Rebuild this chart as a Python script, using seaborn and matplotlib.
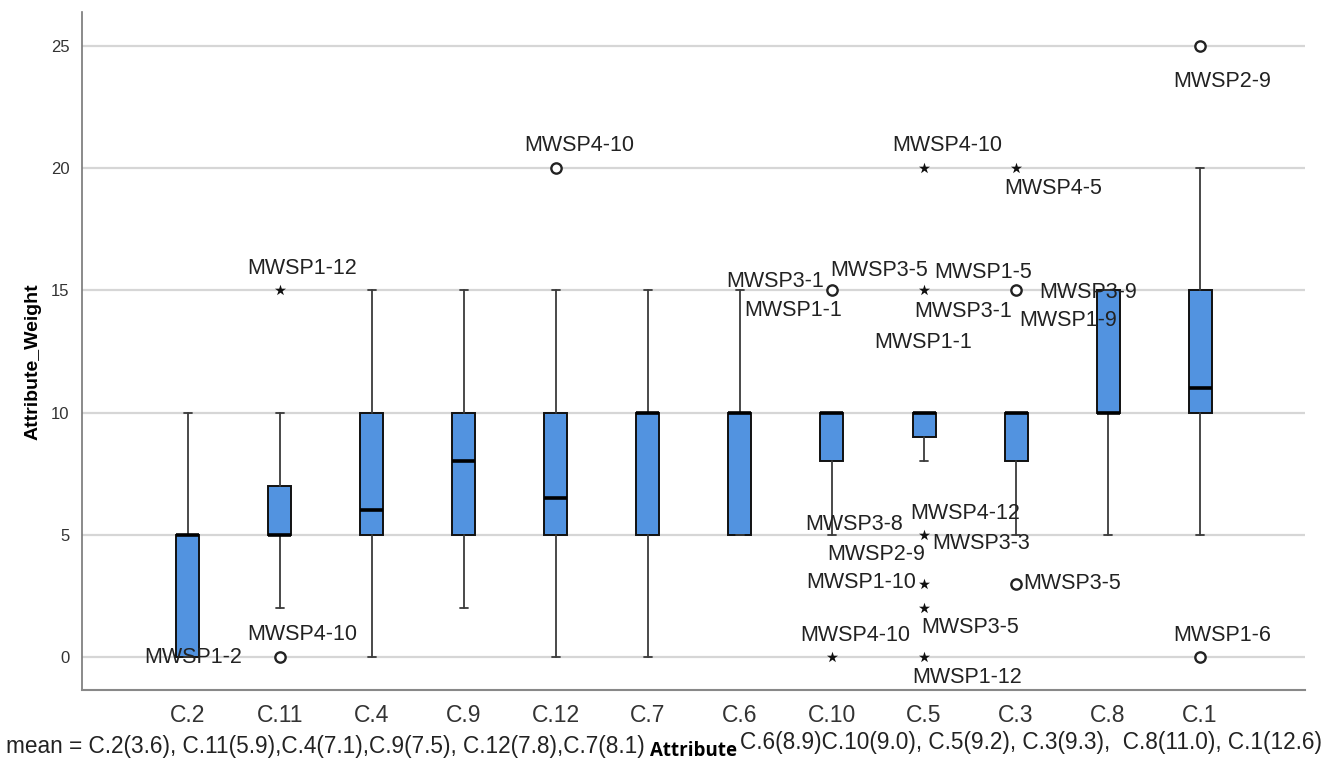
import numpy as np
import pandas as pd
import matplotlib
matplotlib.use("Agg")
import matplotlib.pyplot as plt
import seaborn as sns

# ---------------- data ----------------
categories = ["C.2", "C.11", "C.4", "C.9", "C.12", "C.7", "C.6", "C.10", "C.5", "C.3", "C.8", "C.1"]
q1 = [0, 5, 5, 5, 5, 5, 5, 8, 9, 8, 10, 10]
medians = [5, 5, 6, 8, 6.5, 10, 10, 10, 10, 10, 10, 11]
q3 = [5, 7, 10, 10, 10, 10, 10, 10, 10, 10, 15, 15]
whisker_low = [0, 2, 0, 2, 0, 0, 5, 5, 8, 5, 5, 5]
whisker_high = [10, 10, 15, 15, 15, 15, 15, 10, 10, 10, 15, 20]

out_cat = ["C.11", "C.11", "C.12", "C.10", "C.10", "C.5", "C.5", "C.5", "C.5", "C.5", "C.5",
           "C.3", "C.3", "C.3", "C.1", "C.1"]
out_val = [15, 0, 20, 15, 0, 20, 15, 5, 3, 2, 0, 20, 15, 3, 25, 0]
out_kind = ["extreme", "outlier", "outlier", "outlier", "extreme", "extreme", "extreme",
            "extreme", "extreme", "extreme", "extreme", "extreme", "outlier", "outlier", "outlier", "outlier"]

# case labels
label_cat = ["C.2", "C.11", "C.11", "C.12", "C.10", "C.10", "C.10",
             "C.5", "C.5", "C.5", "C.5", "C.5", "C.5", "C.5", "C.5", "C.5", "C.5", "C.5",
             "C.3", "C.3", "C.3", "C.3", "C.3", "C.1", "C.1"]
label_val = [0, 15, 0, 20, 15, 15, 0,
             20, 15, 15, 15, 5, 5, 5, 5, 3, 2, 0,
             20, 15, 15, 15, 3, 25, 0]
label_txt = ["MWSP1-2", "MWSP1-12", "MWSP4-10", "MWSP4-10", "MWSP3-1", "MWSP1-1", "MWSP4-10",
             "MWSP4-10", "MWSP3-5", "MWSP3-1", "MWSP1-1", "MWSP4-12", "MWSP3-3", "MWSP3-8", "MWSP2-9",
             "MWSP1-10", "MWSP3-5", "MWSP1-12",
             "MWSP4-5", "MWSP1-5", "MWSP3-9", "MWSP1-9", "MWSP3-5", "MWSP2-9", "MWSP1-6"]
# label offsets (pixels) from the point
label_dx = [5, 22, 22, 23, -57, -39, 23,
            23, -45, 39, -1, 41, 57, -70, -48, -63, 46, 43,
            37, -33, 72, 52, 56, 22, 22]
label_dy = [0, 22, 23, 23, 9, -20, 22,
            23, 20, -21, -52, 21, -9, 10, -20, 1, -19, -20,
            -20, 18, -2, -30, 0, -36, 22]

mean_left = "mean = C.2(3.6), C.11(5.9),C.4(7.1),C.9(7.5), C.12(7.8),C.7(8.1)"
mean_right = "C.6(8.9)C.10(9.0), C.5(9.2), C.3(9.3),  C.8(11.0), C.1(12.6)"

# ---------------- style ----------------
sns.set_theme(style="white")
plt.rcParams["font.family"] = ["Liberation Sans", "DejaVu Sans"]

W, H = 1335, 765
fig = plt.figure(figsize=(W / 100, H / 100), dpi=100)
ax = fig.add_axes([82 / W, 1 - 690 / H, (1305 - 82) / W, (690 - 12) / H])

positions = np.arange(len(categories))
stats = []
for i, c in enumerate(categories):
    stats.append(dict(label=c, q1=q1[i], med=medians[i], q3=q3[i],
                      whislo=whisker_low[i], whishi=whisker_high[i], fliers=[]))

box_color = "#5293E0"
ax.bxp(stats, positions=positions, widths=0.25, patch_artist=True, showfliers=False,
       capwidths=0.09,
       boxprops=dict(facecolor=box_color, edgecolor="#111111", linewidth=1.4),
       medianprops=dict(color="black", linewidth=2.6),
       whiskerprops=dict(color="#3a3a3a", linewidth=1.3),
       capprops=dict(color="#3a3a3a", linewidth=1.3),
       zorder=3)

pos_map = {c: i for i, c in enumerate(categories)}
odf = pd.DataFrame({"pos": [pos_map[c] for c in out_cat], "value": out_val, "kind": out_kind})
circ = odf[odf.kind == "outlier"]
star = odf[odf.kind == "extreme"]
sns.scatterplot(x=circ["pos"], y=circ["value"], marker="o", s=55, facecolor="white",
                edgecolor="#222222", linewidth=1.7, ax=ax, zorder=4, legend=False)
ax.scatter(star["pos"], star["value"], s=70, marker="*", color="#111111",
           linewidths=0, zorder=4)

for c, v, t, dx, dy in zip(label_cat, label_val, label_txt, label_dx, label_dy):
    ax.annotate(t, xy=(pos_map[c], v), xytext=(dx, dy), textcoords="offset pixels",
                ha="center", va="center", fontsize=15.5, color="#222222", zorder=5)

ax.set_xlim(-1.15, 12.14)
ax.set_ylim(-1.35, 26.39)
ax.set_yticks([0, 5, 10, 15, 20, 25])
ax.set_xticks(positions)
ax.set_xticklabels(categories)
ax.yaxis.grid(True, color="#d6d6d6", linewidth=1.6)
ax.xaxis.grid(False)
ax.set_axisbelow(True)
for s in ["top", "right"]:
    ax.spines[s].set_visible(False)
ax.spines["left"].set_color("#777777")
ax.spines["bottom"].set_color("#888888")
ax.spines["left"].set_linewidth(1.2)
ax.spines["bottom"].set_linewidth(1.5)
ax.tick_params(axis="y", length=0, pad=9, labelsize=12, labelcolor="#333333")
ax.tick_params(axis="x", length=0, pad=10, labelsize=16.5, labelcolor="#333333")
ax.set_xlabel("")
ax.set_ylabel("")

fig.text(33 / W, 1 - 362 / H, "Attribute_Weight", rotation=90, ha="center", va="center",
         fontsize=14, fontweight="bold", color="black")
fig.text(645 / W, 1 - 747 / H, mean_left, ha="right", va="center", fontsize=16.3, color="#222222")
fig.text(740 / W, 1 - 742 / H, mean_right, ha="left", va="center", fontsize=16.3, color="#222222")
fig.text(693 / W, 1 - 751 / H, "Attribute", ha="center", va="center", fontsize=13.5,
         fontweight="bold", color="black", family=["Open Sans", "DejaVu Sans"])

fig.savefig("out.png", dpi=100)
